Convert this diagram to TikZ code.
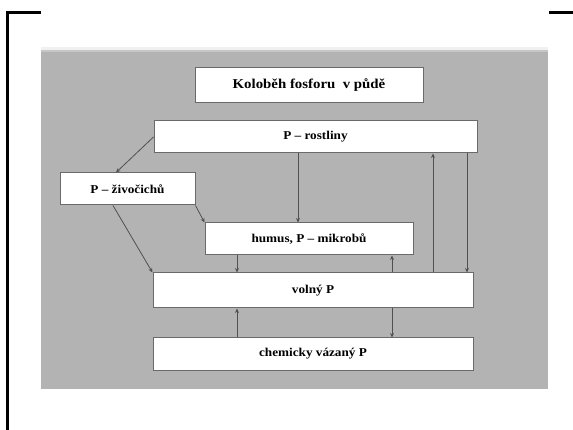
\documentclass[tikz,border=0pt]{standalone}
\usepackage{fontspec}
\setmainfont{Liberation Serif}
\newfontfamily\boxfont{Liberation Serif}[FakeStretch=1.1]
\usetikzlibrary{arrows.meta}
\definecolor{panel}{HTML}{B3B3B3}
\definecolor{linec}{HTML}{505050}
\definecolor{edgec}{HTML}{6A6A6A}
\tikzset{
  box/.style={draw=edgec, line width=1pt, fill=white, inner sep=0pt,
    font=\boxfont\bfseries\fontsize{12}{14}\selectfont, text=black},
  arr/.style={draw=linec, line width=0.8pt, -{Stealth[length=4.5pt,width=4pt]}},
  frame/.style={line width=2.7pt, black}
}
\begin{document}
\begin{tikzpicture}[x=1pt,y=-1pt]
\useasboundingbox (0,0) rectangle (573,430);
\fill[white] (0,0) rectangle (573,430);

% page corner marks
\draw[frame] (7.3,12.5) -- (41,12.5);
\draw[frame] (7.3,11.15) -- (7.3,432);
\draw[frame] (549,12.5) -- (575,12.5);

% grey panel
\fill[gray!12] (41,47) rectangle (548,50);
\fill[panel] (41,50) rectangle (548,389);
\fill[gray!45] (41,50) rectangle (548,52);

% boxes
\node[box, minimum width=228pt, minimum height=35pt,
  font=\boxfont\bfseries\fontsize{13.5}{15}\selectfont] (title) at (309,85.5) {Koloběh fosforu\ \ v půdě};
\node[box, minimum width=323pt, minimum height=32pt] (rost) at (315.5,137) {P – rostliny};
\node[box, minimum width=135pt, minimum height=32pt] (ziv) at (127.5,189) {P – živočichů};
\node[box, minimum width=208pt, minimum height=32pt] (hum) at (309,239) {humus, P – mikrobů};
\node[box, minimum width=320pt, minimum height=35pt] (vol) at (313,290.5) {volný P};
\node[box, minimum width=320pt, minimum height=32pt] (chem) at (313,354) {chemicky vázaný P};

% flows between pools
\draw[arr] (rost.west) -- (ziv.north -| 116,0);
\draw[arr] (ziv.south east) -- (hum.north west);
\draw[arr] (ziv.south -| 113,0) -- (vol.north west);
\draw[arr] (rost.south -| 298,0) -- (hum.north -| 298,0);
\draw[arr] (hum.south -| 237,0) -- (vol.north -| 237,0);
\draw[arr] (vol.north -| 392,0) -- (hum.south -| 392,0);
\draw[arr] (vol.north -| 433,0) -- (rost.south -| 433,0);
\draw[arr] (rost.south -| 467,0) -- (vol.north -| 467,0);
\draw[arr] (chem.north -| 237,0) -- (vol.south -| 237,0);
\draw[arr] (vol.south -| 392,0) -- (chem.north -| 392,0);
\end{tikzpicture}
\end{document}
